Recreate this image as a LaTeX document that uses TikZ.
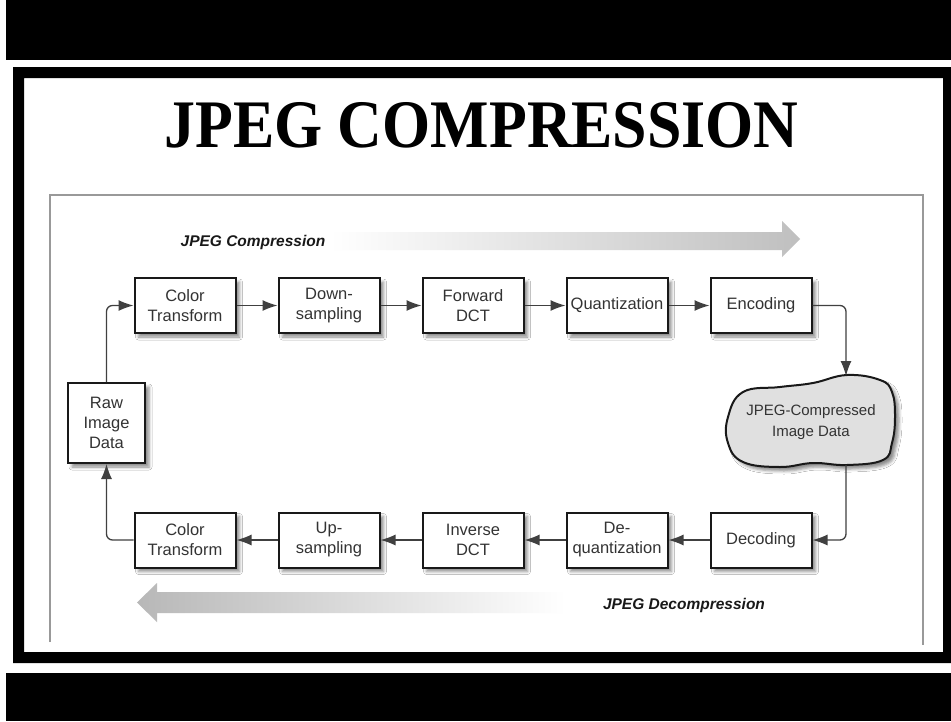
\documentclass[tikz,border=0pt]{standalone}
\usepackage{fontspec}
\setmainfont{Liberation Serif}
\newfontfamily\boxfont{Liberation Sans}
\usetikzlibrary{arrows.meta,positioning,calc,shadows.blur}

\tikzset{
  stage/.style={draw=black!90, line width=2pt, fill=white, minimum width=101pt, minimum height=55pt,
    align=center, inner sep=2pt, font=\boxfont\fontsize{16.5}{20}\selectfont, text=black!80,
    blur shadow={shadow xshift=4pt, shadow yshift=-4pt, shadow blur radius=3pt, shadow opacity=45}},
  conn/.style={draw=black!75, line width=1.3pt, rounded corners=6pt, -{Latex[length=15pt,width=11pt]}},
  flowlbl/.style={font=\boxfont\bfseries\itshape\fontsize{15.5}{18}\selectfont, text=black!90},
}

\begin{document}
\begin{tikzpicture}[x=1pt,y=-1pt]

      \useasboundingbox (0,0) rectangle (951,721);
      \fill[white] (0,0) rectangle (951,721);

      % black bars and frame
      \fill[black] (6,0) rectangle (951,60);
      \fill[black] (6,673) rectangle (951,721);
      \fill[black, even odd rule] (13,67) rectangle (951,663) (24,78) rectangle (943,652);
      \draw[black!40, line width=2.5pt] (50,642) -- (50,195) -- (923,195) -- (923,645);

      \node[anchor=base] (title) at (481.5,147) {\fontsize{68}{70}\selectfont\bfseries\scalebox{0.91}[1]{JPEG COMPRESSION}};

      % gray flow arrows
      \shade[left color=white, right color=black!25] (330,232) -- (782,232) -- (782,221) -- (800,239)
        -- (782,257) -- (782,250) -- (330,250) -- cycle;
      \shade[left color=black!28, right color=white] (137,602.5) -- (157,583) -- (157,592) -- (565,592)
        -- (565,613) -- (157,613) -- (157,622) -- cycle;
      \node[flowlbl] (clbl) at (253,242) {JPEG Compression};
      \node[flowlbl] (dlbl) at (684,605) {JPEG Decompression};

      % compression row
      \node[stage] at (185,305.5) (ct1) {Color\\Transform};
      \node[stage, right = 41pt of ct1] (ds) {Down-\\sampling};
      \node[stage, right = 41pt of ds] (fdct) {Forward\\DCT};
      \node[stage, right = 41pt of fdct] (qz) {Quantization};
      \node[stage, right = 41pt of qz] (enc) {Encoding};

      % decompression row
      \node[stage] at (185,540) (ct2) {Color\\Transform};
      \node[stage, right = 41pt of ct2] (us) {Up-\\sampling};
      \node[stage, right = 41pt of us] (idct) {Inverse\\DCT};
      \node[stage, right = 41pt of idct] (dqz) {De-\\quantization};
      \node[stage, right = 41pt of dqz] (dec) {Decoding};

      \node[stage, minimum width=77pt, minimum height=80pt, text width=70pt] at (106.5,423) (raw) {Raw\\Image\\Data};

      % compressed data blob
      \draw[draw=black!90, line width=2pt, fill=black!12,
        blur shadow={shadow xshift=4pt, shadow yshift=-4pt, shadow blur radius=3pt, shadow opacity=45}]
        plot[smooth cycle, tension=0.7] coordinates {(743,392) (780,387) (813,383) (847,375) (880,380)
        (892,392) (895,417) (892,443) (883,460) (847,465) (813,463) (780,467) (743,462) (728,443) (728,417)};
      \node[align=center, font=\boxfont\fontsize{15}{21}\selectfont, text=black!80] at (811,422) (cdata) {JPEG-Compressed\\Image Data};
      \coordinate (ctop) at (846,376);
      \coordinate (cbot) at (846,465);

      \draw[conn] (raw.north) |- (ct1.west);
      \draw[conn] (ct1) -- (ds);
      \draw[conn] (ds) -- (fdct);
      \draw[conn] (fdct) -- (qz);
      \draw[conn] (qz) -- (enc);
      \draw[conn] (enc.east) -| (ctop);

      \draw[conn] (cbot) |- (dec.east);
      \draw[conn] (dec) -- (dqz);
      \draw[conn] (dqz) -- (idct);
      \draw[conn] (idct) -- (us);
      \draw[conn] (us) -- (ct2);
      \draw[conn] (ct2.west) -| (raw.south);

    \end{tikzpicture}
\end{document}
